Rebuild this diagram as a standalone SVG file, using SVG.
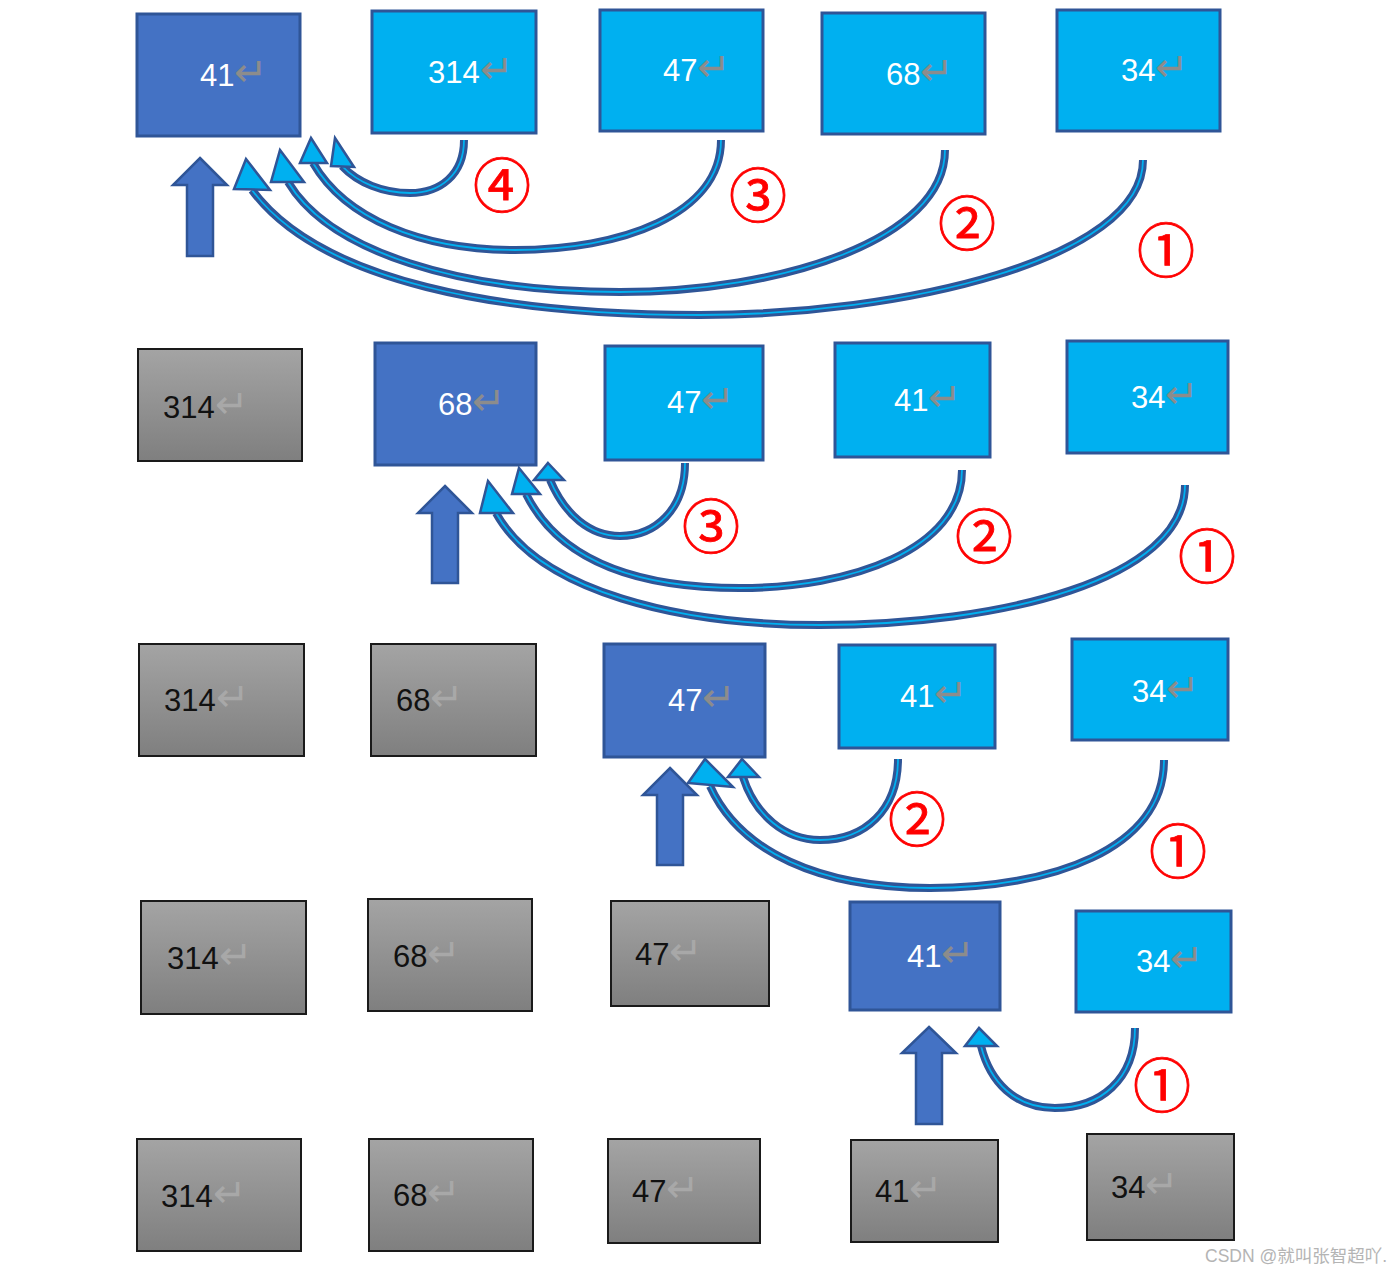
<svg xmlns="http://www.w3.org/2000/svg" width="1400" height="1272" viewBox="0 0 1400 1272">
<defs>
<linearGradient id="gray" x1="0" y1="0" x2="0" y2="1">
<stop offset="0" stop-color="#a4a4a4"/>
<stop offset="1" stop-color="#7f7f7f"/>
</linearGradient>
</defs>
<style>
.dk{fill:#4472c4;stroke:#2f5597;stroke-width:3}
.lt{fill:#00b0f0;stroke:#2f5597;stroke-width:3}
.gr{fill:url(#gray);stroke:#1a1a1a;stroke-width:2}
.tw{font-family:"Liberation Sans",Arial,sans-serif;font-size:31px;fill:#ffffff}
.tb{font-family:"Liberation Sans",Arial,sans-serif;font-size:31px;fill:#111111}
.rw{font-family:"DejaVu Sans",sans-serif;font-size:40px;font-weight:200;fill:#8c8c8c}
.rg{font-family:"DejaVu Sans",sans-serif;font-size:40px;font-weight:200;fill:#a8a8a8}
.up{fill:#4472c4;stroke:#2f5597;stroke-width:2.5;stroke-linejoin:miter}
.co{fill:none;stroke:#2f5597;stroke-width:8;stroke-linecap:butt}
.ci{fill:none;stroke:#00b0f0;stroke-width:1.8}
.ah{fill:#00b0f0;stroke:#2f5597;stroke-width:2.5;stroke-linejoin:miter}
.num{font-family:"Noto Sans CJK SC","DejaVu Sans",sans-serif;font-size:58px;fill:#ff0000;stroke:#ff0000;stroke-width:0.8;text-anchor:middle;dominant-baseline:central}
.wm{font-family:"Liberation Sans","Noto Sans CJK SC",sans-serif;font-size:17.5px;fill:#b4b4b4}
</style>
<rect width="1400" height="1272" fill="#ffffff"/>

<!-- Row 1 -->
<g id="r1-41"><rect class="dk" x="137" y="14" width="163" height="122"/><text class="tw" x="200" y="86">41<tspan class="rw">↵</tspan></text></g>
<g id="r1-314"><rect class="lt" x="372" y="11" width="164" height="122"/><text class="tw" x="428" y="83">314<tspan class="rw">↵</tspan></text></g>
<g id="r1-47"><rect class="lt" x="600" y="10" width="163" height="121"/><text class="tw" x="663" y="81">47<tspan class="rw">↵</tspan></text></g>
<g id="r1-68"><rect class="lt" x="822" y="13" width="163" height="121"/><text class="tw" x="886" y="85">68<tspan class="rw">↵</tspan></text></g>
<g id="r1-34"><rect class="lt" x="1057" y="10" width="163" height="121"/><text class="tw" x="1121" y="81">34<tspan class="rw">↵</tspan></text></g>

<!-- Row 2 -->
<g id="r2-314"><rect class="gr" x="138" y="349" width="164" height="112"/><text class="tb" x="163" y="418">314<tspan class="rg">↵</tspan></text></g>
<g id="r2-68"><rect class="dk" x="375" y="343" width="161" height="122"/><text class="tw" x="438" y="415">68<tspan class="rw">↵</tspan></text></g>
<g id="r2-47"><rect class="lt" x="605" y="346" width="158" height="114"/><text class="tw" x="667" y="413">47<tspan class="rw">↵</tspan></text></g>
<g id="r2-41"><rect class="lt" x="835" y="343" width="155" height="114"/><text class="tw" x="894" y="411">41<tspan class="rw">↵</tspan></text></g>
<g id="r2-34"><rect class="lt" x="1067" y="341" width="161" height="112"/><text class="tw" x="1131" y="408">34<tspan class="rw">↵</tspan></text></g>

<!-- Row 3 -->
<g id="r3-314"><rect class="gr" x="139" y="644" width="165" height="112"/><text class="tb" x="164" y="711">314<tspan class="rg">↵</tspan></text></g>
<g id="r3-68"><rect class="gr" x="371" y="644" width="165" height="112"/><text class="tb" x="396" y="711">68<tspan class="rg">↵</tspan></text></g>
<g id="r3-47"><rect class="dk" x="604" y="644" width="161" height="113"/><text class="tw" x="668" y="711">47<tspan class="rw">↵</tspan></text></g>
<g id="r3-41"><rect class="lt" x="839" y="645" width="156" height="103"/><text class="tw" x="900" y="707">41<tspan class="rw">↵</tspan></text></g>
<g id="r3-34"><rect class="lt" x="1072" y="639" width="156" height="101"/><text class="tw" x="1132" y="702">34<tspan class="rw">↵</tspan></text></g>

<!-- Row 4 -->
<g id="r4-314"><rect class="gr" x="141" y="901" width="165" height="113"/><text class="tb" x="167" y="969">314<tspan class="rg">↵</tspan></text></g>
<g id="r4-68"><rect class="gr" x="368" y="899" width="164" height="112"/><text class="tb" x="393" y="967">68<tspan class="rg">↵</tspan></text></g>
<g id="r4-47"><rect class="gr" x="611" y="901" width="158" height="105"/><text class="tb" x="635" y="965">47<tspan class="rg">↵</tspan></text></g>
<g id="r4-41"><rect class="dk" x="850" y="902" width="150" height="108"/><text class="tw" x="907" y="967">41<tspan class="rw">↵</tspan></text></g>
<g id="r4-34"><rect class="lt" x="1076" y="911" width="155" height="101"/><text class="tw" x="1136" y="972">34<tspan class="rw">↵</tspan></text></g>

<!-- Row 5 -->
<g id="r5-314"><rect class="gr" x="137" y="1139" width="164" height="112"/><text class="tb" x="161" y="1207">314<tspan class="rg">↵</tspan></text></g>
<g id="r5-68"><rect class="gr" x="369" y="1139" width="164" height="112"/><text class="tb" x="393" y="1206">68<tspan class="rg">↵</tspan></text></g>
<g id="r5-47"><rect class="gr" x="608" y="1139" width="152" height="104"/><text class="tb" x="632" y="1202">47<tspan class="rg">↵</tspan></text></g>
<g id="r5-41"><rect class="gr" x="851" y="1140" width="147" height="102"/><text class="tb" x="875" y="1202">41<tspan class="rg">↵</tspan></text></g>
<g id="r5-34"><rect class="gr" x="1087" y="1134" width="147" height="106"/><text class="tb" x="1111" y="1198">34<tspan class="rg">↵</tspan></text></g>

<g id="connectors">
<!-- up arrows -->
<polygon class="up" points="200,158 227,185 213,185 213,256 187,256 187,185 173,185"/>
<polygon class="up" points="445,486 472,513 458,513 458,583 432,583 432,513 418,513"/>
<polygon class="up" points="670,768 697,795 683,795 683,865 657,865 657,795 643,795"/>
<polygon class="up" points="929,1027 956,1053 942,1053 942,1124 916,1124 916,1053 902,1053"/>

<!-- row 1 curves -->
<path class="co" d="M1143,160 C1143,260 900,315 700,315 C500,315 320,282 252,190"/>
<path class="ci" d="M1143,160 C1143,260 900,315 700,315 C500,315 320,282 252,190"/>
<polygon class="ah" points="246,159 270,190 234,189"/>
<path class="co" d="M945,150 C945,240 780,292 620,292 C460,292 330,252 288,182"/>
<path class="ci" d="M945,150 C945,240 780,292 620,292 C460,292 330,252 288,182"/>
<polygon class="ah" points="280,150 304,182 271,182"/>
<path class="co" d="M721,140 C721,215 620,250 515,250 C420,250 345,218 313,163"/>
<path class="ci" d="M721,140 C721,215 620,250 515,250 C420,250 345,218 313,163"/>
<polygon class="ah" points="311,138 327,163 300,163"/>
<path class="co" d="M464,140 C464,175 440,193 410,193 C383,193 358,183 342,166"/>
<path class="ci" d="M464,140 C464,175 440,193 410,193 C383,193 358,183 342,166"/>
<polygon class="ah" points="335,138 354,167 331,166"/>

<!-- row 2 curves -->
<path class="co" d="M1185,485 C1185,580 1000,625 820,625 C680,625 540,592 496,513"/>
<path class="ci" d="M1185,485 C1185,580 1000,625 820,625 C680,625 540,592 496,513"/>
<polygon class="ah" points="488,481 513,513 480,513"/>
<path class="co" d="M962,470 C962,550 850,588 740,588 C640,588 560,562 526,494"/>
<path class="ci" d="M962,470 C962,550 850,588 740,588 C640,588 560,562 526,494"/>
<polygon class="ah" points="519,468 540,494 512,494"/>
<path class="co" d="M685,463 C685,510 655,536 620,536 C590,536 565,515 550,480"/>
<path class="ci" d="M685,463 C685,510 655,536 620,536 C590,536 565,515 550,480"/>
<polygon class="ah" points="548,463 564,480 534,480"/>

<!-- row 3 curves -->
<path class="co" d="M1164,760 C1164,850 1050,888 930,888 C820,888 740,852 710,786"/>
<path class="ci" d="M1164,760 C1164,850 1050,888 930,888 C820,888 740,852 710,786"/>
<polygon class="ah" points="705,759 733,787 688,783"/>
<path class="co" d="M898,759 C898,810 865,840 820,840 C785,840 755,815 743,777"/>
<path class="ci" d="M898,759 C898,810 865,840 820,840 C785,840 755,815 743,777"/>
<polygon class="ah" points="742,759 759,777 728,777"/>

<!-- row 4 curve -->
<path class="co" d="M1135,1028 C1135,1080 1100,1108 1055,1108 C1015,1108 990,1082 981,1046"/>
<path class="ci" d="M1135,1028 C1135,1080 1100,1108 1055,1108 C1015,1108 990,1082 981,1046"/>
<polygon class="ah" points="979,1028 997,1046 965,1046"/>
</g>

<g id="labels">
<text class="num" x="502" y="182">④</text>
<text class="num" x="758" y="192">③</text>
<text class="num" x="967" y="220">②</text>
<text class="num" x="1166" y="247">①</text>
<text class="num" x="711" y="523">③</text>
<text class="num" x="984" y="533">②</text>
<text class="num" x="1207" y="553">①</text>
<text class="num" x="917" y="816">②</text>
<text class="num" x="1178" y="848">①</text>
<text class="num" x="1162" y="1082">①</text>
</g>

<text class="wm" x="1205" y="1262">CSDN @就叫张智超吖.</text>
</svg>
